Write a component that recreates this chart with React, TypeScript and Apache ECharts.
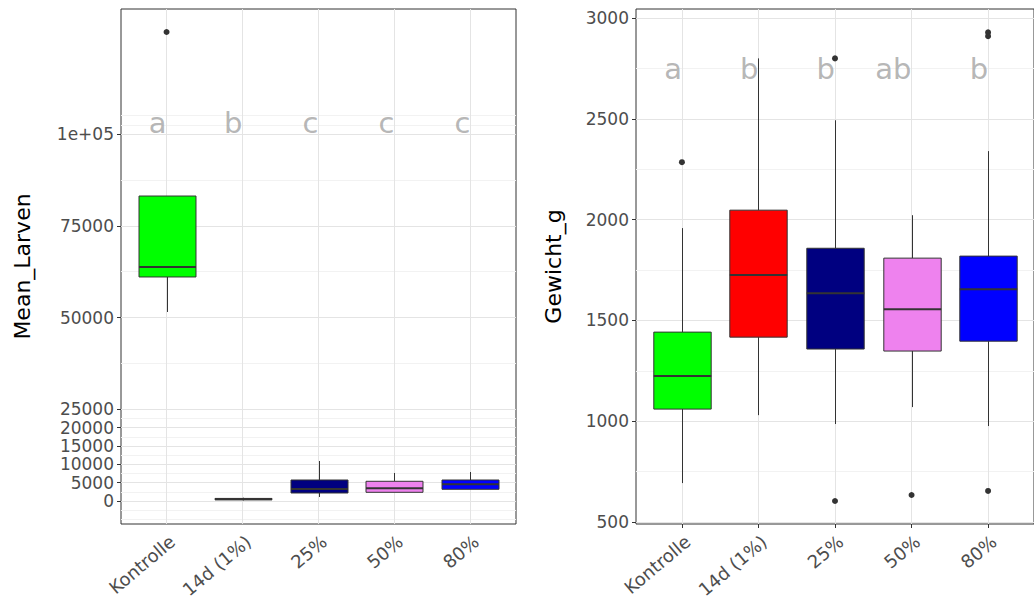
import React, { useEffect, useRef } from 'react';
import * as echarts from 'echarts';

const categories = ['Kontrolle', '14d (1%)', '25%', '50%', '80%'];
const boxColors = ['#00FF00', '#FF0000', '#000080', '#EE82EE', '#0000FF'];

// [min, Q1, median, Q3, max]
const larvenBoxes = [
  [51500, 61040, 63760, 83100, 83100],
  [150, 350, 500, 700, 900],
  [1090, 2180, 3270, 5720, 10900],
  [2370, 2370, 3460, 5370, 7630],
  [3190, 3190, 4550, 5720, 7900],
];
const larvenOutliers = [[1, 127800]];
const larvenLetters = ['a', 'b', 'c', 'c', 'c'];
const larvenLetterY = 103000;
const larvenTicks = [0, 5000, 10000, 15000, 20000, 25000, 50000, 75000, 100000];
const larvenTickLabels = ['0', '5000', '10000', '15000', '20000', '25000', '50000', '75000', '1e+05'];
const larvenMinor = [-5000, -2500, 2500, 7500, 12500, 17500, 22500, 37500, 62500, 87500, 102500, 105000];
const larvenRange = [-6267, 134060];

const gewichtBoxes = [
  [693, 1060, 1224, 1442, 1958],
  [1030, 1417, 1725, 2047, 2800],
  [986, 1358, 1635, 1858, 2493],
  [1070, 1348, 1556, 1809, 2022],
  [976, 1397, 1655, 1819, 2340],
];
const gewichtOutliers = [[1, 2285], [3, 2800], [3, 604], [4, 634], [5, 2929], [5, 2910], [5, 654]];
const gewichtLetters = ['a', 'b', 'b', 'ab', 'b'];
const gewichtLetterY = 2747;
const gewichtTicks = [500, 1000, 1500, 2000, 2500, 3000];
const gewichtTickLabels = ['500', '1000', '1500', '2000', '2500', '3000'];
const gewichtMinor = [750, 1250, 1750, 2250, 2750];
const gewichtRange = [490, 3045];

const FONT = 'DejaVu Sans';
const catPositions = categories.map((_, i) => i + 1);

function renderBox(params: any, api: any) {
  const x = api.value(0);
  const idx = Math.round(x) - 1;
  const pMin = api.coord([x, api.value(1)]);
  const pQ1 = api.coord([x, api.value(2)]);
  const pMed = api.coord([x, api.value(3)]);
  const pQ3 = api.coord([x, api.value(4)]);
  const pMax = api.coord([x, api.value(5)]);
  const halfW = api.size([0.75, 0])[0] / 2;
  const cx = Math.round(pMed[0]) + 0.5;
  const stroke = '#333333';
  return {
    type: 'group',
    children: [
      { type: 'line', shape: { x1: cx, y1: pMax[1], x2: cx, y2: pQ3[1] }, style: { stroke, lineWidth: 1 } },
      { type: 'line', shape: { x1: cx, y1: pQ1[1], x2: cx, y2: pMin[1] }, style: { stroke, lineWidth: 1 } },
      {
        type: 'rect',
        shape: { x: cx - halfW, y: pQ3[1], width: halfW * 2, height: Math.max(pQ1[1] - pQ3[1], 0.5) },
        style: { fill: boxColors[idx], stroke, lineWidth: 1 },
      },
      { type: 'line', shape: { x1: cx - halfW, y1: pMed[1], x2: cx + halfW, y2: pMed[1] }, style: { stroke, lineWidth: 2 } },
    ],
  };
}

function panel(gi: number, boxes: number[][], outliers: number[][], letters: string[], letterY: number, minor: number[], major: number[]) {
  const gridLines = [
    ...minor.map((v) => ({ yAxis: v, lineStyle: { color: '#F2F2F2', width: 1, type: 'solid' } })),
    ...major.map((v) => ({ yAxis: v, lineStyle: { color: '#E4E4E4', width: 1, type: 'solid' } })),
    ...catPositions.map((v) => ({ xAxis: v, lineStyle: { color: '#E4E4E4', width: 1, type: 'solid' } })),
  ];
  return [
    {
      type: 'scatter',
      xAxisIndex: gi,
      yAxisIndex: gi,
      data: [],
      z: 1,
      silent: true,
      markLine: { z: 1, silent: true, symbol: ['none', 'none'], label: { show: false }, data: gridLines, animation: false },
    },
    {
      type: 'custom',
      xAxisIndex: gi,
      yAxisIndex: gi,
      z: 3,
      renderItem: renderBox,
      encode: { x: 0, y: [1, 2, 3, 4, 5] },
      data: boxes.map((b, i) => [i + 1, ...b]),
    },
    {
      type: 'scatter',
      xAxisIndex: gi,
      yAxisIndex: gi,
      z: 4,
      symbolSize: 6,
      itemStyle: { color: '#333333', opacity: 1 },
      data: outliers,
    },
    {
      type: 'scatter',
      xAxisIndex: gi,
      yAxisIndex: gi,
      z: 5,
      symbolSize: 0,
      data: letters.map((l, i) => ({
        value: [i + 1, letterY],
        label: { formatter: l },
      })),
      label: {
        show: true,
        position: 'inside',
        align: 'right',
        verticalAlign: 'middle',
        fontFamily: FONT,
        fontSize: 29,
        color: '#A3A3A3',
      },
    },
  ];
}

function xAxis(gi: number) {
  return {
    type: 'value',
    gridIndex: gi,
    min: 0.4,
    max: 5.6,
    axisLine: { show: false },
    splitLine: { show: false },
    axisTick: { show: true, length: 4, lineStyle: { color: '#333333' }, customValues: catPositions },
    axisLabel: {
      customValues: catPositions,
      formatter: (v: number) => categories[Math.round(v) - 1] ?? '',
      rotate: 40,
      margin: 8,
      fontFamily: FONT,
      fontSize: 18,
      color: '#4D4D4D',
      verticalAlign: 'top',
    },
  };
}

function yAxis(gi: number, range: number[], ticks: number[], labels: string[], name: string, gap: number) {
  return {
    type: 'value',
    gridIndex: gi,
    min: range[0],
    max: range[1],
    name,
    nameLocation: 'middle',
    nameGap: gap,
    nameTextStyle: { fontFamily: FONT, fontSize: 22, color: '#000000' },
    axisLine: { show: false },
    splitLine: { show: false },
    axisTick: { show: true, length: 4, lineStyle: { color: '#333333' }, customValues: ticks },
    axisLabel: {
      customValues: ticks,
      formatter: (v: number) => {
        const i = ticks.indexOf(v);
        return i >= 0 ? labels[i] : '';
      },
      margin: 7,
      fontFamily: FONT,
      fontSize: 17,
      lineHeight: 16,
      color: '#4D4D4D',
    },
  };
}

export default function App() {
  const ref = useRef<HTMLDivElement>(null);
  useEffect(() => {
    if (!ref.current) return;
    const chart = echarts.init(ref.current, undefined, { renderer: 'svg' });
    const option: any = {
      animation: false,
      backgroundColor: '#FFFFFF',
      grid: [
        { left: 121, top: 9, width: 395, height: 515, show: true, borderColor: '#333333', borderWidth: 1, backgroundColor: '#FFFFFF', containLabel: false },
        { left: 636, top: 9, width: 411, height: 515, show: true, borderColor: '#333333', borderWidth: 1, backgroundColor: '#FFFFFF', containLabel: false },
      ],
      xAxis: [xAxis(0), xAxis(1)],
      yAxis: [
        yAxis(0, larvenRange, larvenTicks, larvenTickLabels, 'Mean_Larven', 88),
        yAxis(1, gewichtRange, gewichtTicks, gewichtTickLabels, 'Gewicht_g', 72),
      ],
      series: [
        ...panel(0, larvenBoxes, larvenOutliers, larvenLetters, larvenLetterY, larvenMinor, larvenTicks),
        ...panel(1, gewichtBoxes, gewichtOutliers, gewichtLetters, gewichtLetterY, gewichtMinor, gewichtTicks),
      ],
    };
    chart.setOption(option);
    return () => chart.dispose();
  }, []);
  return <div ref={ref} style={{ position: 'absolute', left: 0, top: 0, width: 1034, height: 601 }} />;
}
